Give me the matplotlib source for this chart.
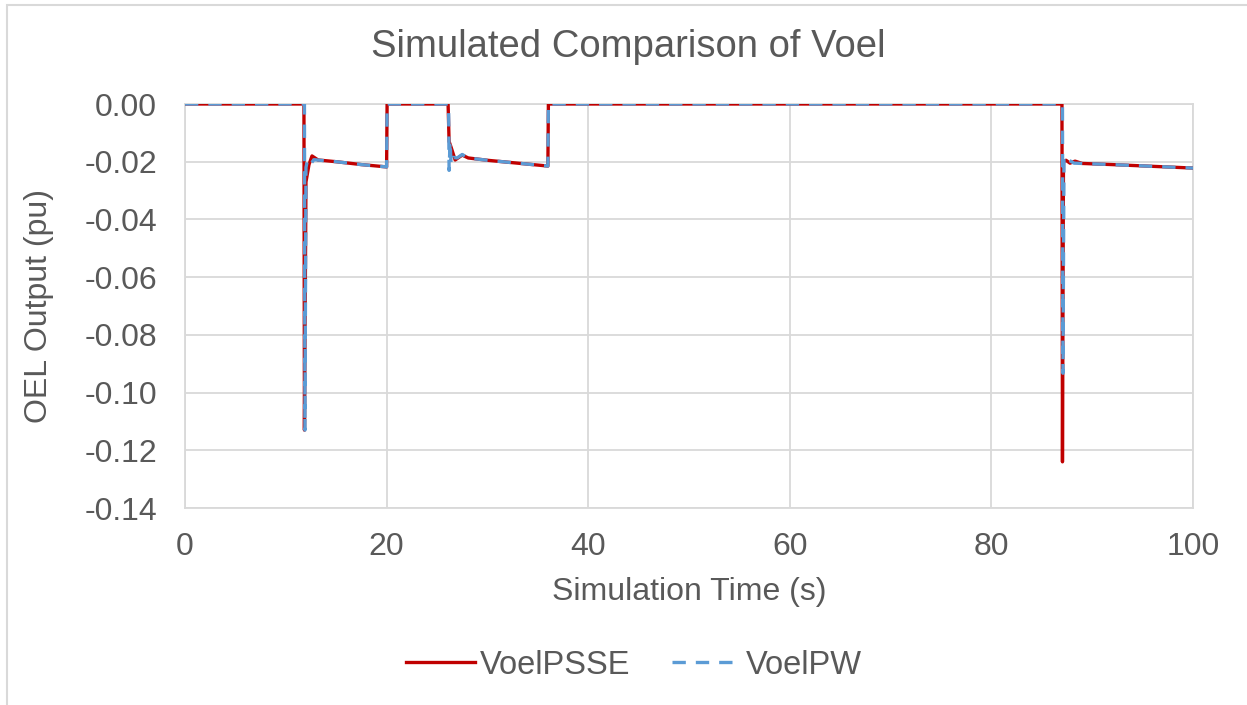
import matplotlib
matplotlib.use("Agg")
import matplotlib.pyplot as plt
from matplotlib.patches import Rectangle

plt.rcParams['font.family'] = ['Liberation Sans', 'DejaVu Sans']

# time (s) and OEL output (pu)
t_psse = [0, 11.8, 11.85, 12.0, 12.3, 12.6, 13.2, 15, 17.5, 20.0,
          20.05, 26.1, 26.2, 26.4, 26.8, 27.5, 28.1, 30, 33, 36.0,
          36.05, 87.0, 87.05, 87.15, 87.4, 87.8, 88.3, 89, 92, 96, 100]
v_psse = [0, 0, -0.113, -0.027, -0.021, -0.018, -0.0194, -0.020, -0.021, -0.0218,
          0, 0, -0.013, -0.015, -0.0194, -0.0177, -0.0187, -0.0195, -0.0205, -0.0215,
          0, 0, -0.124, -0.02, -0.0195, -0.0205, -0.0198, -0.0206, -0.021, -0.0216, -0.0222]

t_pw = [0, 11.85, 11.9, 12.0, 12.15, 12.4, 12.8, 15, 17.5, 20.0,
        20.05, 26.15, 26.2, 26.3, 26.4, 26.6, 27.0, 27.5, 28.1, 30,
        33, 36.0, 36.05, 87.05, 87.1, 87.2, 87.4, 87.7, 88.2, 89, 92, 96, 100]
v_pw = [0, 0, -0.113, -0.022, -0.0195, -0.021, -0.0193, -0.020, -0.021, -0.0218,
        0, 0, -0.023, -0.013, -0.021, -0.0185, -0.0187, -0.0175, -0.0187, -0.0195,
        -0.0205, -0.0215, 0, 0, -0.0933, -0.019, -0.0205, -0.0195, -0.0205, -0.0206,
        -0.021, -0.0216, -0.0222]

x_ticks = [0, 20, 40, 60, 80, 100]
y_ticks = [0.00, -0.02, -0.04, -0.06, -0.08, -0.10, -0.12, -0.14]

txt = '#595959'
grid = '#D9D9D9'

fig = plt.figure(figsize=(12.47, 7.05), dpi=100)
fig.patches.append(Rectangle((7 / 1247, -0.1), 1.2, 1.1 - 5 / 705,
                             transform=fig.transFigure, fill=False,
                             edgecolor=grid, linewidth=1.5))
ax = fig.add_axes([185 / 1247, 1 - 508 / 705, (1193 - 185) / 1247, (508 - 104) / 705])

ax.plot(t_psse, v_psse, color='#C00000', lw=2.4, label='VoelPSSE', zorder=3)
ax.plot(t_pw, v_pw, color='#5B9BD5', lw=2.4, dashes=(4, 3), label='VoelPW', zorder=4)

ax.set_xlim(0, 100)
ax.set_ylim(-0.14, 0)
ax.set_xticks(x_ticks)
ax.set_yticks(y_ticks)
ax.set_yticklabels(['%.2f' % v for v in y_ticks])
ax.grid(True, color=grid, lw=1.3)
ax.set_axisbelow(True)
for s in ax.spines.values():
    s.set_color(grid)
    s.set_linewidth(1.3)
ax.tick_params(length=0, labelsize=23, colors=txt)
ax.tick_params(axis='y', pad=20)
ax.tick_params(axis='x', pad=17)

ax.set_xlabel('Simulation Time (s)', fontsize=23, color=txt, labelpad=11)
ax.set_ylabel('OEL Output (pu)', fontsize=23, color=txt, labelpad=22)
fig.text(628 / 1247, 1 - 47 / 705, 'Simulated Comparison of Voel', fontsize=27.5,
         color=txt, ha='center', va='center')

fig.legend(loc='center', bbox_to_anchor=(634 / 1247, 1 - 665 / 705), ncol=2,
           frameon=False, fontsize=23.5, labelcolor=txt, handlelength=2.1,
           handletextpad=0.15, columnspacing=1.3)

fig.savefig('out.png', dpi=100)
